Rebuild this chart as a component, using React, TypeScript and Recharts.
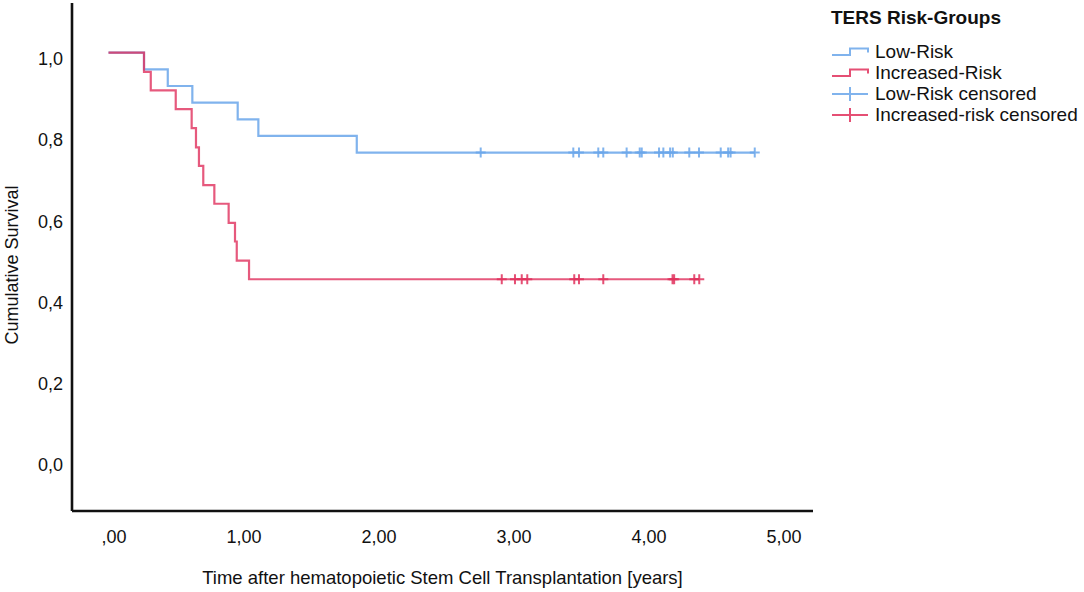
import React from "react";
import { ComposedChart, Line, Scatter, XAxis, YAxis } from "recharts";

// Kaplan-Meier steps (time in years, cumulative survival)
const lowRiskSteps = [
  { t: 0, s: 1 },
  { t: 0.263, s: 0.959 },
  { t: 0.439, s: 0.918 },
  { t: 0.621, s: 0.877 },
  { t: 0.957, s: 0.836 },
  { t: 1.11, s: 0.795 },
  { t: 1.839, s: 0.754 },
  { t: 4.787, s: 0.754 },
];

const increasedRiskSteps = [
  { t: 0, s: 1 },
  { t: 0.263, s: 0.953 },
  { t: 0.313, s: 0.907 },
  { t: 0.498, s: 0.861 },
  { t: 0.616, s: 0.814 },
  { t: 0.648, s: 0.767 },
  { t: 0.67, s: 0.721 },
  { t: 0.702, s: 0.674 },
  { t: 0.784, s: 0.628 },
  { t: 0.89, s: 0.581 },
  { t: 0.937, s: 0.535 },
  { t: 0.95, s: 0.488 },
  { t: 1.041, s: 0.442 },
  { t: 4.376, s: 0.442 },
];

const lowRiskCensoredTimes = [
  2.757, 3.443, 3.485, 3.628, 3.665, 3.838, 3.935, 3.95, 4.078, 4.11, 4.16,
  4.18, 4.302, 4.374, 4.535, 4.59, 4.608, 4.787,
];

const increasedRiskCensoredTimes = [
  2.913, 3.011, 3.061, 3.102, 3.45, 3.485, 3.665, 4.178, 4.19, 4.339, 4.376,
];

const xTicks = [0, 1, 2, 3, 4, 5];
const xTickLabels = [",00", "1,00", "2,00", "3,00", "4,00", "5,00"];
const yTicks = [0, 0.2, 0.4, 0.6, 0.8, 1.0];
const yTickLabels = ["0,0", "0,2", "0,4", "0,6", "0,8", "1,0"];

const BLUE = "#6aa6ea";
const RED = "#e0305c";
const FONT = "'Liberation Sans', Arial, Helvetica, sans-serif";

const survivalAt = (steps: { t: number; s: number }[], t: number) => {
  let s = 1;
  for (const p of steps) if (p.t <= t) s = p.s;
  return s;
};

const lowRiskCensored = lowRiskCensoredTimes.map((t) => ({ t, s: survivalAt(lowRiskSteps, t) }));
const increasedRiskCensored = increasedRiskCensoredTimes.map((t) => ({
  t,
  s: survivalAt(increasedRiskSteps, t),
}));

const plusShape = (color: string) => (props: any) => {
  const { cx, cy } = props;
  return (
    <path
      d={`M${cx - 5},${cy}H${cx + 5}M${cx},${cy - 5}V${cy + 5}`}
      stroke={color}
      strokeWidth={2}
      strokeOpacity={0.85}
      fill="none"
    />
  );
};

const XTick = ({ x, y, payload }: any) => {
  const i = xTicks.indexOf(payload.value);
  return (
    <text x={x + 18} y={y + 25.5} textAnchor="end" dominantBaseline="central" fontSize={18} fontFamily={FONT} fill="#111">
      {xTickLabels[i]}
    </text>
  );
};

const YTick = ({ x, y, payload }: any) => {
  const i = yTicks.findIndex((v) => Math.abs(v - payload.value) < 1e-6);
  return (
    <text x={x} y={y + 6.5} textAnchor="end" dominantBaseline="central" fontSize={18} fontFamily={FONT} fill="#111">
      {yTickLabels[i]}
    </text>
  );
};

const LegendIcon = ({ color, kind }: { color: string; kind: "step" | "plus" }) => (
  <svg width={38} height={16} style={{ marginRight: 6, flexShrink: 0 }}>
    {kind === "step" ? (
      <path d="M1,11H19V4.5H37V8.5" stroke={color} strokeWidth={2} strokeOpacity={0.85} fill="none" />
    ) : (
      <path d="M1,8H37M19,1V15" stroke={color} strokeWidth={2} strokeOpacity={0.85} fill="none" />
    )}
  </svg>
);

const legendItems = [
  { label: "Low-Risk", color: BLUE, kind: "step" as const },
  { label: "Increased-Risk", color: RED, kind: "step" as const },
  { label: "Low-Risk censored", color: BLUE, kind: "plus" as const },
  { label: "Increased-risk censored", color: RED, kind: "plus" as const },
];

export default function App() {
  return (
    <div style={{ position: "absolute", left: 0, top: 0, width: 1084, height: 592, background: "#fff" }}>
      <ComposedChart width={1084} height={592} margin={{ top: 3, right: 271, bottom: 41, left: 0 }}>
        <XAxis
          type="number"
          dataKey="t"
          domain={[-0.2704, 5.2185]}
          ticks={xTicks}
          tick={<XTick />}
          tickLine={false}
          tickSize={0}
          tickMargin={0}
          height={40}
          allowDataOverflow
          axisLine={{ stroke: "#111", strokeWidth: 2.6 }}
          label={({ viewBox }: any) => (
            <text
              x={viewBox.x + viewBox.width / 2}
              y={viewBox.y + 66}
              textAnchor="middle"
              dominantBaseline="central"
              fontSize={18.5}
              fontFamily={FONT}
              fill="#111"
            >
              Time after hematopoietic Stem Cell Transplantation [years]
            </text>
          )}
        />
        <YAxis
          type="number"
          dataKey="s"
          domain={[-0.1288, 1.1224]}
          ticks={yTicks}
          tick={<YTick />}
          tickLine={false}
          tickSize={0}
          tickMargin={9}
          width={72}
          allowDataOverflow
          axisLine={{ stroke: "#111", strokeWidth: 2.6 }}
          label={({ viewBox }: any) => {
            const cx = 12;
            const cy = viewBox.y + viewBox.height / 2 + 8;
            return (
              <text
                x={cx}
                y={cy}
                transform={`rotate(-90 ${cx} ${cy})`}
                textAnchor="middle"
                dominantBaseline="central"
                fontSize={18}
                fontFamily={FONT}
                fill="#111"
              >
                Cumulative Survival
              </text>
            );
          }}
        />
        <Line
          data={lowRiskSteps}
          dataKey="s"
          type="stepAfter"
          stroke={BLUE}
          strokeWidth={2.2}
          strokeOpacity={0.85}
          dot={false}
          activeDot={false}
          isAnimationActive={false}
        />
        <Line
          data={increasedRiskSteps}
          dataKey="s"
          type="stepAfter"
          stroke={RED}
          strokeWidth={2.2}
          strokeOpacity={0.8}
          dot={false}
          activeDot={false}
          isAnimationActive={false}
        />
        <Scatter data={lowRiskCensored} dataKey="s" shape={plusShape(BLUE)} isAnimationActive={false} />
        <Scatter data={increasedRiskCensored} dataKey="s" shape={plusShape(RED)} isAnimationActive={false} />
      </ComposedChart>
      <div style={{ position: "absolute", left: 831, top: 6, fontFamily: FONT, color: "#111" }}>
        <div style={{ fontWeight: "bold", fontSize: 19, lineHeight: "23px", marginBottom: 12 }}>TERS Risk-Groups</div>
        {legendItems.map((it) => (
          <div key={it.label} style={{ display: "flex", alignItems: "center", fontSize: 19, lineHeight: "21px", height: 21 }}>
            <LegendIcon color={it.color} kind={it.kind} />
            <span>{it.label}</span>
          </div>
        ))}
      </div>
    </div>
  );
}
